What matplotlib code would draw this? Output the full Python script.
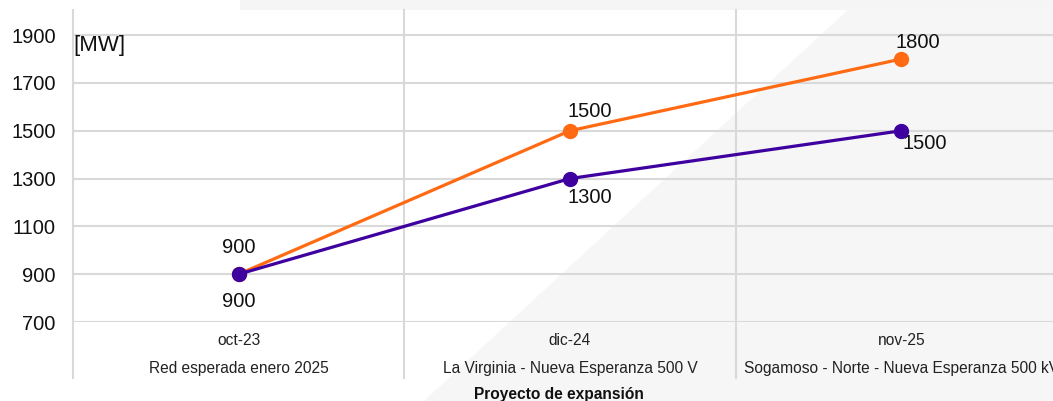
import matplotlib
matplotlib.use('Agg')
import matplotlib.pyplot as plt
from matplotlib.patches import Polygon, Rectangle
import matplotlib.transforms as mtransforms

plt.rcParams['font.family'] = ['Liberation Sans', 'DejaVu Sans']

# datos
fechas = ['oct-23', 'dic-24', 'nov-25']
proyectos = ['Red esperada enero 2025',
             'La Virginia - Nueva Esperanza 500 V',
             'Sogamoso - Norte - Nueva Esperanza 500 kV']
serie_alta = [900, 1500, 1800]
serie_baja = [900, 1300, 1500]
yticks = [700, 900, 1100, 1300, 1500, 1700, 1900]

naranja = '#FF6A13'
morado = '#3F00A0'
gris = '#d9d9d9'

W, H = 1053, 401
fig = plt.figure(figsize=(W / 100, H / 100), dpi=100)
fig.patch.set_facecolor('white')

# fondo con textura gris clara (aproximado)
fondo = fig.add_axes([0, 0, 1, 1], zorder=0)
fondo.set_xlim(0, W)
fondo.set_ylim(H, 0)
fondo.axis('off')
fondo.add_patch(Rectangle((240, 0), W - 240, 10, color='#f5f5f5', lw=0))
fondo.add_patch(Polygon([(424, H), (850, 8), (W, 8), (W, H)], closed=True,
                        color='#f6f6f6', lw=0))

# ejes: left 73px, ancho 994px (se sale del borde derecho), y 10..322 px
ax = fig.add_axes([73 / W, 1 - 322 / H, 994 / W, 312 / H], zorder=1)
ax.set_facecolor('none')
x = list(range(len(fechas)))
ax.set_xlim(-0.5, len(fechas) - 0.5)
ax.set_ylim(700, 2005)

ax.set_yticks(yticks)
ax.tick_params(axis='y', length=0, labelsize=14.5, pad=12.5, colors='#111111')
ax.set_xticks([])
ax.grid(axis='y', color=gris, linewidth=1.5)
ax.set_axisbelow(True)
for s in ['top', 'right', 'bottom', 'left']:
    ax.spines[s].set_visible(False)

# separadores verticales de categorias (incluye borde izquierdo)
trans = mtransforms.blended_transform_factory(ax.transData, ax.transAxes)
for xs in [-0.5, 0.5, 1.5]:
    ax.plot([xs, xs], [-0.18, 1.0], transform=trans, color=gris,
            linewidth=1.5, clip_on=False, zorder=1)

# etiquetas del eje x en dos niveles
for i in x:
    ax.text(i, -0.06, fechas[i], transform=trans, ha='center', va='center',
            fontsize=11.2, color='#222222')
    ax.text(i, -0.15, proyectos[i], transform=trans, ha='center', va='center',
            fontsize=11.2, color='#222222', clip_on=False)

fig.text(559 / W, 1 - 394 / H, 'Proyecto de expansión', ha='center', va='center',
         fontsize=11.2, fontweight='bold', color='#111111')

ax.plot(x, serie_alta, color=naranja, linewidth=2.3, marker='o', markersize=10,
        zorder=3, clip_on=False)
ax.plot(x, serie_baja, color=morado, linewidth=2.3, marker='o', markersize=10,
        zorder=4, clip_on=False)

# etiquetas de datos
off_alta = [(0, 19), (-2, 14), (-4, 12)]
off_baja = [(0, -20), (-2, -14), (1, -9)]
for i in x:
    dx, dy = off_alta[i]
    ax.annotate(str(serie_alta[i]), (i, serie_alta[i]), xytext=(dx, dy),
                textcoords='offset points', ha='center' if i == 0 else 'left',
                va='center', fontsize=14.5, color='#111111')
    dx, dy = off_baja[i]
    ax.annotate(str(serie_baja[i]), (i, serie_baja[i]), xytext=(dx, dy),
                textcoords='offset points', ha='center' if i == 0 else 'left',
                va='center', fontsize=14.5, color='#111111')

ax.text(0.0, 1858, '[MW]', transform=ax.get_yaxis_transform(),
        ha='left', va='center', fontsize=16, color='#111111')

fig.savefig('out.png', dpi=100)
